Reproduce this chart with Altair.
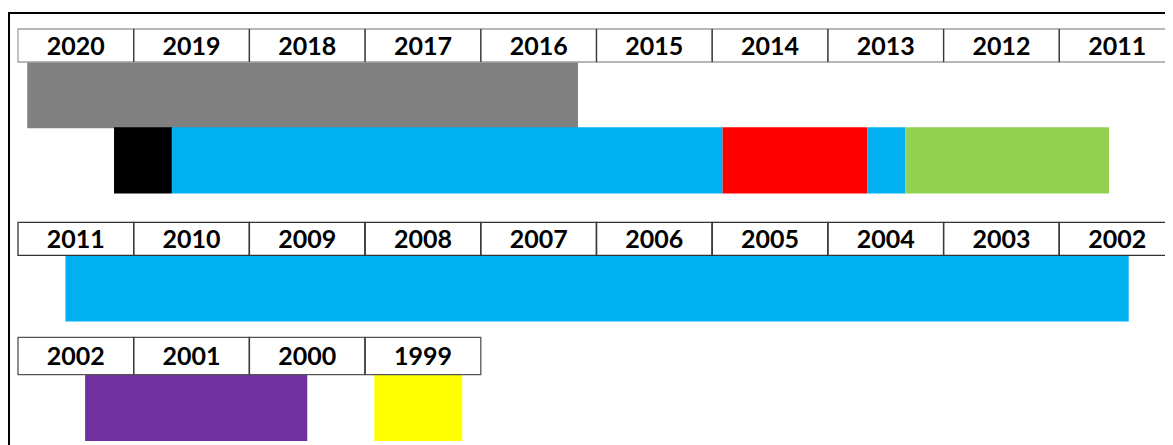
import altair as alt
import pandas as pd

# ---------------- data ----------------
row_first_year = [2020, 2011, 2002]
row_cells = [10, 10, 4]

bar_row = [0, 0, 0, 0, 0, 0, 1, 2, 2]
bar_lane = [0, 1, 1, 1, 1, 1, 0, 0, 0]
bar_from = [2020.92, 2020.17, 2019.67, 2014.91, 2013.66, 2013.33, 2011.59, 2002.42, 1999.92]
bar_to = [2016.16, 2019.67, 2014.91, 2013.66, 2013.33, 2011.57, 2002.40, 2000.50, 1999.16]
bar_color = ["#808080", "#000000", "#00B0F0", "#FF0000", "#00B0F0",
             "#92D050", "#00B0F0", "#7030A0", "#FFFF00"]

# ---------------- layout / style ----------------
CELL_PX = 115.7
N_CELLS = 10
PLOT_W = 1147
PLOT_H = 412
header_top = [0, 193.3, 308.3]
header_h = [33, 33, 37.4]
header_edge = ["#a0a0a0", "#333333", "#555555"]
DIVIDER = "#3a3a3a"
lane_top = {(0, 0): 33, (0, 1): 98.3, (1, 0): 226.3, (2, 0): 345.7}
LANE_H = 66.3

# header cells
cells = []
dividers = []
for r, (y0, n) in enumerate(zip(row_first_year, row_cells)):
    for i in range(n):
        cells.append({
            "row": r, "label": str(y0 - i), "edge": header_edge[r],
            "p0": i, "p1": i + 1, "pm": i + 0.5,
            "y0": header_top[r], "y1": header_top[r] + header_h[r],
            "ym": header_top[r] + header_h[r] / 2 + 1,
        })
        if i > 0:
            dividers.append({"p": i, "y0": header_top[r],
                             "y1": header_top[r] + header_h[r]})
cells_df = pd.DataFrame(cells)
div_df = pd.DataFrame(dividers)

bars = []
for r, l, a, b, c in zip(bar_row, bar_lane, bar_from, bar_to, bar_color):
    base = row_first_year[r] + 1
    bars.append({
        "p0": base - a, "p1": base - b, "color": c,
        "y0": lane_top[(r, l)], "y1": lane_top[(r, l)] + LANE_H,
    })
bars_df = pd.DataFrame(bars)

xs = alt.Scale(domain=[0, N_CELLS], range=[0, N_CELLS * CELL_PX])
ys = alt.Scale(domain=[0, PLOT_H], range=[0, PLOT_H])

bar_layer = alt.Chart(bars_df).mark_rect().encode(
    x=alt.X("p0:Q", scale=xs, axis=None),
    x2="p1:Q",
    y=alt.Y("y0:Q", scale=ys, axis=None),
    y2="y1:Q",
    color=alt.Color("color:N", scale=None, legend=None),
)

cell_layer = alt.Chart(cells_df).mark_rect(
    fill="white", strokeWidth=1.3
).encode(
    x=alt.X("p0:Q", scale=xs, axis=None),
    x2="p1:Q",
    y=alt.Y("y0:Q", scale=ys, axis=None),
    y2="y1:Q",
    stroke=alt.Stroke("edge:N", scale=None, legend=None),
)

div_layer = alt.Chart(div_df).mark_rule(
    color=DIVIDER, strokeWidth=1.3
).encode(
    x=alt.X("p:Q", scale=xs, axis=None),
    y=alt.Y("y0:Q", scale=ys, axis=None),
    y2="y1:Q",
)

text_layer = alt.Chart(cells_df).mark_text(
    font="Lato", fontWeight="bold", fontSize=25, color="black",
    baseline="middle", align="center"
).encode(
    x=alt.X("pm:Q", scale=xs, axis=None),
    y=alt.Y("ym:Q", scale=ys, axis=None),
    text="label:N",
)

frame = alt.Chart(pd.DataFrame({"a": [0]})).mark_rect(
    filled=False, stroke="black", strokeWidth=2
).encode(
    x=alt.value(-9), x2=alt.value(1300),
    y=alt.value(-16), y2=alt.value(600),
)

chart = alt.layer(frame, bar_layer, cell_layer, div_layer, text_layer).properties(
    width=PLOT_W, height=PLOT_H,
    autosize=alt.AutoSizeParams(type="none"),
    padding={"left": 10, "top": 21, "right": 0, "bottom": 10},
).configure_view(stroke=None)

chart.save("out.html", embed_options={"renderer": "svg", "actions": False})
